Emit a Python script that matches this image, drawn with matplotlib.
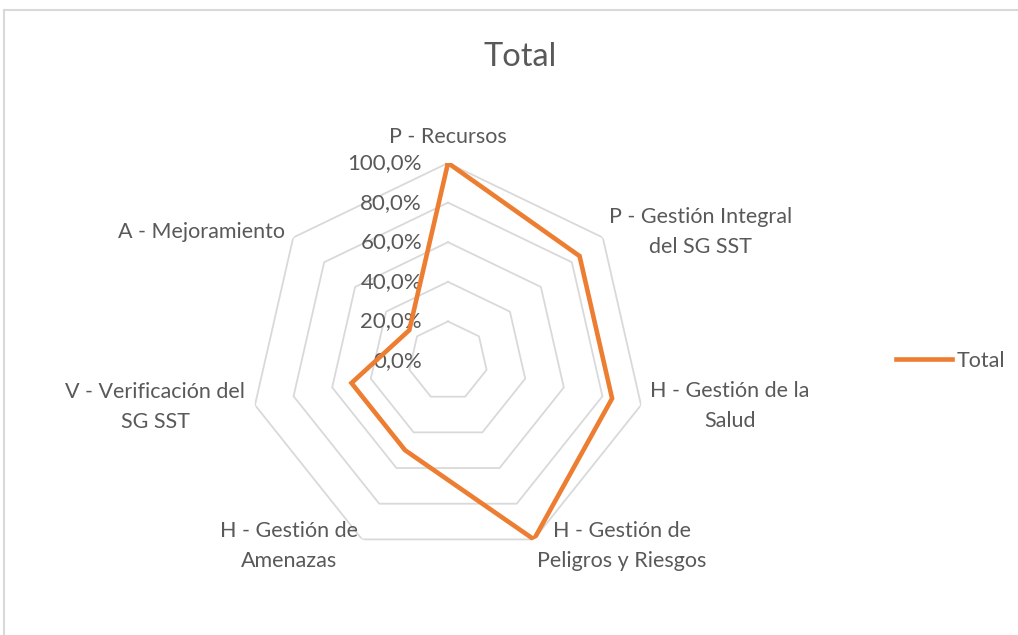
import numpy as np
import matplotlib
matplotlib.use("Agg")
import matplotlib.pyplot as plt
from matplotlib.lines import Line2D

plt.rcParams['font.family'] = ['Lato', 'DejaVu Sans']

categories = ["P - Recursos", "P - Gestión Integral\ndel SG SST", "H - Gestión de la\nSalud",
              "H - Gestión de\nPeligros y Riesgos", "H - Gestión de\nAmenazas",
              "V - Verificación del\nSG SST", "A - Mejoramiento"]
values = [1.00, 0.85, 0.85, 1.00, 0.50, 0.50, 0.25]
ticks = [0.0, 0.2, 0.4, 0.6, 0.8, 1.0]
tick_labels = ["0,0%", "20,0%", "40,0%", "60,0%", "80,0%", "100,0%"]
series_name = "Total"

W, H = 1018, 635
fig = plt.figure(figsize=(W / 100, H / 100), dpi=100)

cx, cy, R = 448, 361, 198
ax = fig.add_axes([(cx - R) / W, (H - cy - R) / H, 2 * R / W, 2 * R / H], projection='polar')
ax.set_theta_zero_location('N')
ax.set_theta_direction(-1)
ax.set_ylim(0, 1)
ax.grid(False)
ax.spines['polar'].set_visible(False)
ax.set_xticks([])
ax.set_yticks([])
ax.patch.set_alpha(0)

n = len(categories)
theta = np.linspace(0, 2 * np.pi, n, endpoint=False)
theta_c = np.append(theta, theta[0])

grid_color = '#D9D9D9'
for t in ticks[1:]:
    ax.plot(theta_c, [t] * (n + 1), color=grid_color, lw=1.3, zorder=1)

vals_c = values + values[:1]
line, = ax.plot(theta_c, vals_c, color='#ED7D31', lw=3.3, zorder=3,
                solid_joinstyle='miter', label=series_name)

text_color = '#595959'
fs = 15.5
for t, lab in zip(ticks, tick_labels):
    ax.annotate(lab, xy=(0, t), xytext=(-26, 0), textcoords='offset pixels',
                ha='right', va='center', fontsize=16, color=text_color, zorder=2)

label_offsets = [(0, 26, 'center'), (6, 6, 'left'), (9, -1, 'left'), (3, -7, 'left'),
                 (-4, -7, 'right'), (-10, -2, 'right'), (-8, 6, 'right')]
for th, lab, (dx, dy, ha) in zip(theta, categories, label_offsets):
    ax.annotate(lab, xy=(th, 1.0), xytext=(dx, dy), textcoords='offset pixels',
                ha=ha, va='center', multialignment='center', fontsize=fs,
                color=text_color, linespacing=1.62)

fig.text(520 / W, 1 - 57 / H, "Total", ha='center', va='center', fontsize=23.5, color=text_color)

fig.legend(handles=[line], loc='center left', bbox_to_anchor=(896 / W, 1 - 361 / H),
           frameon=False, fontsize=fs, handlelength=2.6, handletextpad=0.2,
           borderpad=0, borderaxespad=0, labelcolor=text_color)

fig.add_artist(Line2D([4 / W, 4 / W], [0, 1 - 10 / H], transform=fig.transFigure, color=grid_color, lw=1.5))
fig.add_artist(Line2D([4 / W, 1], [1 - 10 / H, 1 - 10 / H], transform=fig.transFigure, color=grid_color, lw=1.5))

fig.savefig("out.png", dpi=100)
